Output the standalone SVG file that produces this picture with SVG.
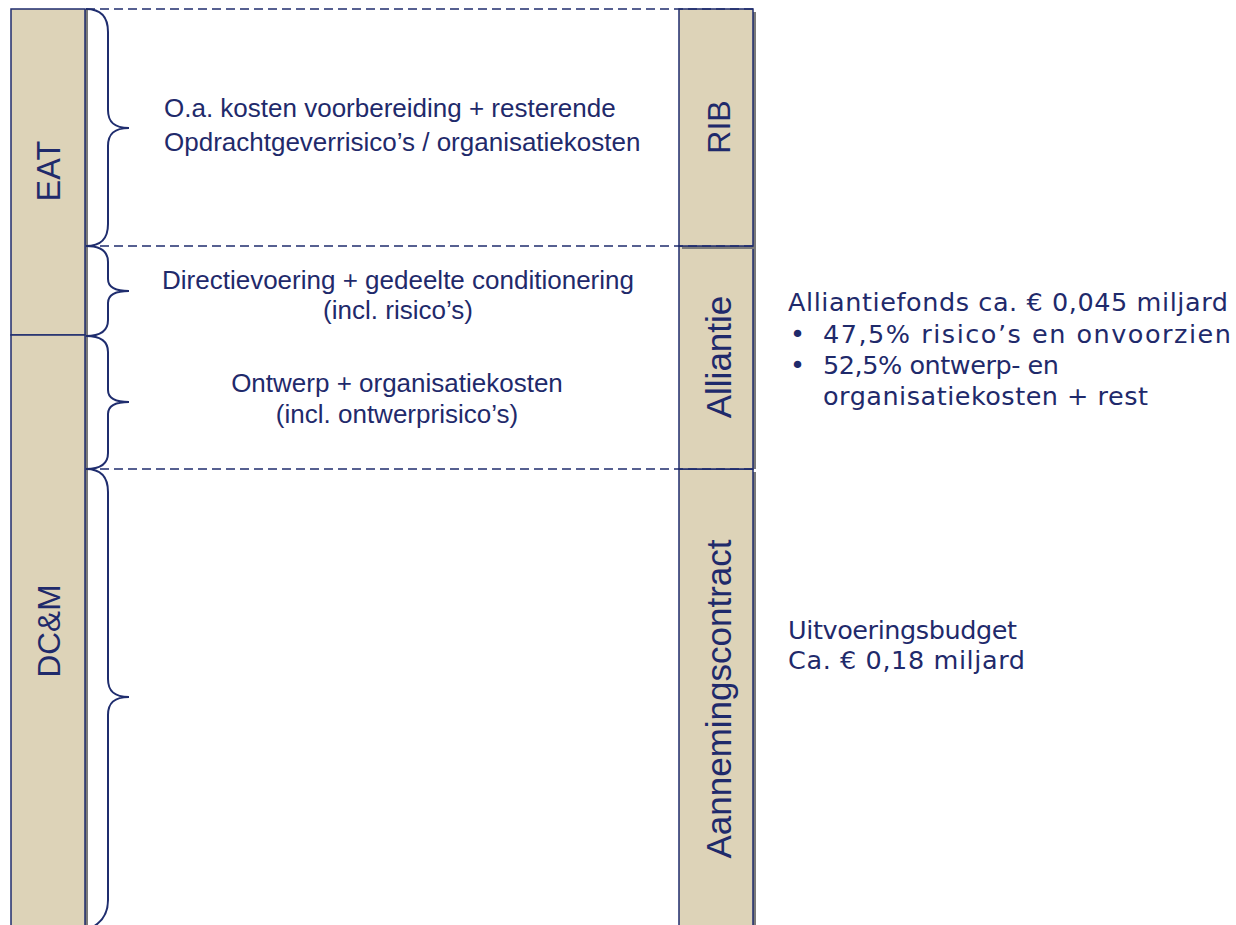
<svg xmlns="http://www.w3.org/2000/svg" width="1236" height="925" viewBox="0 0 1236 925">
  <style>
    .box { fill: #ddd3b8; stroke: #1f2d6e; stroke-width: 1.5; }
    .shadow { fill: #7a7a7a; }
    .brace { fill: none; stroke: #1f2d6e; stroke-width: 2; }
    .dash { stroke: #1f2d6e; stroke-width: 1.7; stroke-dasharray: 9 5; }
    .vlabel { font-family: "Liberation Sans", Arial, sans-serif; fill: #1f2a6b; text-anchor: middle; }
    .mid { font-family: "Liberation Sans", Arial, sans-serif; font-size: 26px; fill: #1f2a6b; }
    .side { font-family: "DejaVu Sans", Verdana, sans-serif; font-size: 25.5px; fill: #1f2a6b; }
  </style>
  <rect width="1236" height="925" fill="#ffffff"/>

  <!-- left column -->
  <g id="eat">
    <rect class="shadow" x="85" y="9" width="3" height="326"/>
    <rect class="box" x="11" y="9" width="74" height="326"/>
    <text class="vlabel" font-size="32.5" transform="translate(60,171) rotate(-90)">EAT</text>
  </g>
  <g id="dcm">
    <rect class="shadow" x="85" y="335" width="3" height="600"/>
    <rect class="box" x="11" y="335" width="74" height="600"/>
    <text class="vlabel" font-size="31.5" transform="translate(60,631) rotate(-90)">DC&amp;M</text>
  </g>

  <!-- right column -->
  <g id="aannemingscontract">
    <rect class="shadow" x="753" y="472" width="3" height="460"/>
    <rect class="box" x="679" y="469" width="74" height="460"/>
    <text class="vlabel" font-size="35" transform="translate(731,699) rotate(-90)">Aannemingscontract</text>
  </g>
  <g id="alliantie">
    <rect class="shadow" x="753" y="249" width="3" height="220"/>
    <rect class="box" x="679" y="246" width="74" height="223"/>
    <text class="vlabel" font-size="35" transform="translate(731,357) rotate(-90)">Alliantie</text>
  </g>
  <g id="rib">
    <rect class="shadow" x="682" y="12" width="74" height="237"/>
    <rect class="box" x="679" y="9" width="74" height="237"/>
    <text class="vlabel" font-size="32" transform="translate(730,127) rotate(-90)">RIB</text>
  </g>

  <!-- braces and dashed separators -->
  <g id="connectors">
    <path class="brace" d="M86 9 C100 9 108 16 108 32 L108 110 C108 122 114 128 129 128 C114 128 108 134 108 146 L108 224 C108 240 100 246 86 246"/>
    <path class="brace" d="M86 246 C100 246 108 251 108 262 L108 279 C108 287 114 291 129 291 C114 291 108 295 108 303 L108 320 C108 331 100 336 86 336"/>
    <path class="brace" d="M86 336 C100 336 108 341 108 352 L108 390 C108 398 114 402 129 402 C114 402 108 406 108 414 L108 453 C108 464 100 469 86 469"/>
    <path class="brace" d="M86 469 C100 469 108 476 108 492 L108 679 C108 691 114 697 129 697 C114 697 108 703 108 715 L108 900 C108 916 100 925 86 930"/>
    <line class="dash" x1="86" y1="9" x2="755" y2="9"/>
    <line class="dash" x1="86" y1="246" x2="755" y2="246"/>
    <line class="dash" x1="86" y1="469" x2="755" y2="469"/>
  </g>

  <!-- descriptions between the columns -->
  <g id="label-voorbereiding">
    <text class="mid" x="164" y="117">O.a. kosten voorbereiding + resterende</text>
    <text class="mid" x="164" y="151">Opdrachtgeverrisico’s / organisatiekosten</text>
  </g>
  <g id="label-directievoering">
    <text class="mid" x="398" y="289" text-anchor="middle">Directievoering + gedeelte conditionering</text>
    <text class="mid" x="398" y="319" text-anchor="middle">(incl. risico’s)</text>
  </g>
  <g id="label-ontwerp">
    <text class="mid" x="397" y="392" text-anchor="middle">Ontwerp + organisatiekosten</text>
    <text class="mid" x="397" y="423" text-anchor="middle">(incl. ontwerprisico’s)</text>
  </g>

  <!-- budget notes -->
  <g id="note-alliantiefonds">
    <text class="side" x="788" y="311" textLength="440" lengthAdjust="spacing">Alliantiefonds ca. € 0,045 miljard</text>
    <text class="side" x="790" y="343">•</text>
    <text class="side" x="823" y="343" textLength="408" lengthAdjust="spacing">47,5% risico’s en onvoorzien</text>
    <text class="side" x="790" y="374">•</text>
    <text class="side" x="823" y="374" textLength="236" lengthAdjust="spacing">52,5% ontwerp- en</text>
    <text class="side" x="823" y="405" textLength="325" lengthAdjust="spacing">organisatiekosten + rest</text>
  </g>
  <g id="note-uitvoeringsbudget">
    <text class="side" x="788" y="639" textLength="229" lengthAdjust="spacing">Uitvoeringsbudget</text>
    <text class="side" x="788" y="669" textLength="237" lengthAdjust="spacing">Ca. € 0,18 miljard</text>
  </g>
</svg>
